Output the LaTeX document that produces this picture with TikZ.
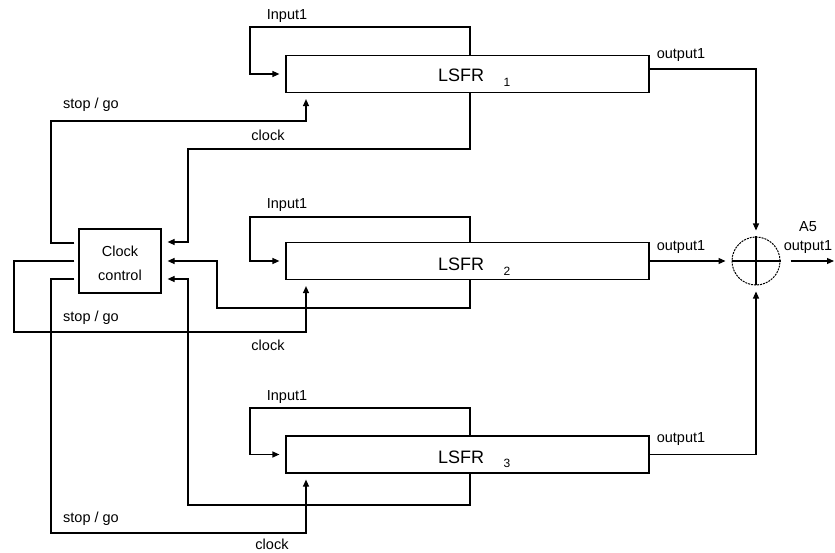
\documentclass[tikz,border=0pt]{standalone}
\usepackage{fontspec}
\setmainfont{Liberation Sans}
\usetikzlibrary{arrows.meta}
\begin{document}
\begin{tikzpicture}[x=1pt,y=-1pt,
  ln/.style={line width=1.2pt},
  arr/.style={ln,-{Triangle[length=7pt,width=6pt]},shorten >=6pt},
  reg/.style={draw,line width=1.2pt,minimum width=363pt,minimum height=37pt,inner sep=0pt},
  lbl/.style={font=\fontsize{14.5}{16}\selectfont,inner sep=0pt},
  big/.style={font=\fontsize{18}{20}\selectfont,inner sep=0pt},
  sub/.style={font=\fontsize{12}{14}\selectfont,inner sep=0pt}]
\useasboundingbox (0,0) rectangle (835,553);
% registers
\node[reg] (b1) at (467.5,74) {};
\node[reg] (b2) at (467.5,261) {};
\node[reg] (b3) at (467.5,454.5) {};
\node[big] (t1) at (461,75) {LSFR};
\node[sub] (s1) at (507,82) {1};
\node[big] (t2) at (461,264) {LSFR};
\node[sub] (s2) at (507,271) {2};
\node[big] (t3) at (461,457) {LSFR};
\node[sub] (s3) at (507,463) {3};
% clock control
\node[draw,ln,minimum width=82pt,minimum height=64pt,inner sep=0pt] (cc) at (120,261) {};
\node[lbl] (cct) at (120,251) {Clock};
\node[lbl] (ccb) at (120,275) {control};
% xor
\node[circle,draw,line width=1pt,dash pattern=on 2pt off 1pt,minimum size=48pt,inner sep=0pt] (x) at (756,261) {};
\draw[ln] (x.north) -- (x.south);
\draw[ln] (x.west) -- (x.east);
\coordinate (o) at (834,261);
% input loops
\draw[arr] (b1.north -| 470,0) |- (250,27) |- (b1.west);
\draw[arr] (b2.north -| 470,0) |- (250,217) |- (b2.west);
\draw[arr] (b3.north -| 470,0) |- (250,408) |- (b3.west);
\node[lbl] (i1) at (287,16) {Input1};
\node[lbl] (i2) at (287,205) {Input1};
\node[lbl] (i3) at (287,397) {Input1};
% clock lines
\draw[arr] (b1.south -| 470,0) |- (188,149) |- ([yshift=19pt]cc.east);
\draw[arr] (b2.south -| 470,0) |- (217,308) |- (cc.east);
\draw[arr] (b3.south -| 470,0) |- (188,505) |- ([yshift=-18pt]cc.east);
\node[lbl] (c1) at (268,135) {clock};
\node[lbl] (c2) at (268,345) {clock};
\node[lbl] (c3) at (272,544) {clock};
% stop/go lines
\draw[arr,shorten <=4pt] ([yshift=18pt]cc.west) -| (51,121) -| (b1.south -| 306,0);
\draw[arr,shorten <=4pt] (cc.west) -| (14,332) -| (b2.south -| 306,0);
\draw[arr,shorten <=4pt] ([yshift=-18pt]cc.west) -| (51,533) -| (b3.south -| 306,0);
\node[lbl] (g1) at (91,105) {stop / go};
\node[lbl] (g2) at (91,318) {stop / go};
\node[lbl] (g3) at (91,519) {stop / go};
% outputs
\draw[arr] ([yshift=5pt]b1.east) -| (x.north);
\draw[arr] (b2.east) -- (x.west);
\draw[arr] (b3.east) -| (x.south);
\draw[arr,shorten <=10pt,shorten >=0pt] (x.east) -- (o);
\node[lbl] (o1) at (681,55) {output1};
\node[lbl] (o2) at (681,247) {output1};
\node[lbl] (o3) at (681,439) {output1};
\node[lbl] (a5) at (808,227) {A5};
\node[lbl] (ao) at (808,247) {output1};
\end{tikzpicture}
\end{document}
